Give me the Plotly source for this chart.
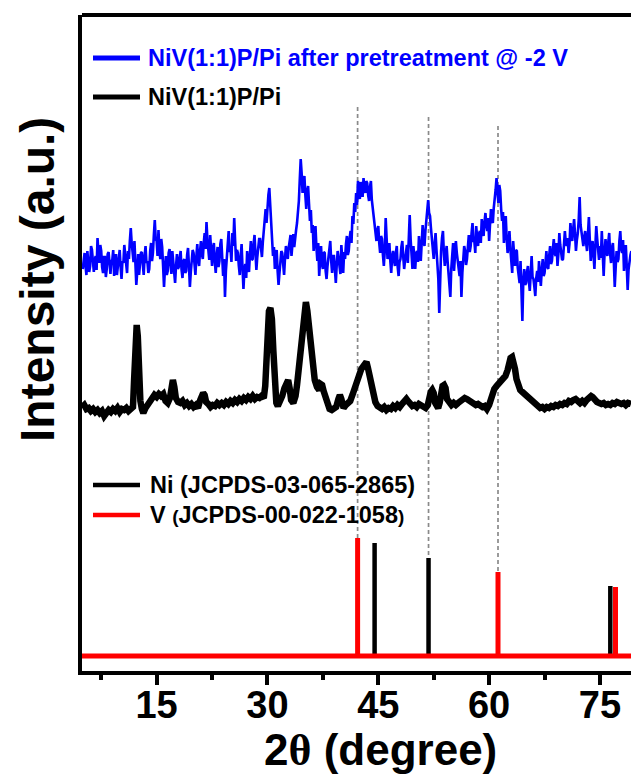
import numpy as np
import plotly.graph_objects as go

# ---------------- data ----------------
# NiV(1:1)P/Pi after pretreatment @ -2 V  (scan from 5.0 deg, step 0.125 deg)
scan_start = 5.0
scan_step = 0.125
blue_int = [
    402, 410, 418, 405, 396, 420, 412, 399,   # 5
    405, 425, 421, 408, 399, 411, 415, 401,   # 6
    433, 419, 408, 426, 420, 404, 398, 414,   # 7
    414, 394, 402, 417, 419, 408, 397, 410,   # 8
    411, 421, 395, 405, 417, 396, 403, 412,   # 9
    421, 404, 392, 410, 408, 426, 415, 400,   # 10
    398, 420, 412, 430, 443, 428, 420, 409,   # 11
    430, 405, 386, 399, 417, 396, 405, 418,   # 12
    419, 403, 396, 415, 425, 408, 410, 398,   # 13
    402, 420, 428, 410, 418, 436, 451, 432,   # 14
    430, 415, 441, 420, 412, 432, 424, 405,   # 15
    384, 402, 415, 396, 400, 418, 422, 407,   # 16
    397, 420, 411, 399, 388, 405, 417, 402,   # 17
    404, 413, 420, 401, 393, 410, 412, 398,   # 18
    400, 416, 423, 405, 384, 399, 410, 421,   # 19
    418, 402, 396, 414, 427, 411, 405, 420,   # 20
    430, 417, 412, 428, 438, 422, 449, 431,   # 21
    420, 411, 436, 418, 405, 423, 428, 409,   # 22
    398, 415, 424, 404, 410, 427, 432, 414,   # 23
    395, 412, 374, 400, 415, 428, 440, 419,   # 24
    422, 409, 438, 425, 453, 430, 410, 421,   # 25
    418, 405, 396, 414, 427, 403, 382, 400,   # 26
    407, 393, 420, 408, 399, 416, 430, 411,   # 27
    412, 427, 436, 418, 401, 414, 425, 432,   # 28
    432, 421, 414, 429, 440, 452, 462, 448,   # 29
    470, 476, 483, 465, 440, 428, 415, 424,   # 30
    402, 414, 421, 400, 386, 398, 410, 420,   # 31
    418, 405, 396, 413, 425, 417, 412, 423,   # 32
    428, 436, 415, 427, 437, 424, 430, 441,   # 33
    448, 459, 470, 492, 512, 498, 478, 489,   # 34
    495, 476, 462, 480, 485, 467, 450, 461,   # 35
    438, 446, 420, 432, 445, 424, 410, 428,   # 36
    395, 411, 425, 407, 402, 419, 418, 400,   # 37
    392, 405, 412, 421, 430, 410, 398, 415,   # 38
    415, 402, 388, 406, 420, 413, 405, 397,   # 39
    426, 410, 398, 419, 412, 427, 435, 416,   # 40
    420, 433, 440, 428, 455, 447, 468, 459,   # 41
    478, 466, 490, 481, 472, 489, 485, 474,   # 42
    493, 482, 478, 490, 488, 476, 470, 484,   # 43
    490, 471, 462, 452, 448, 437, 430, 441,   # 44
    445, 428, 418, 435, 432, 416, 405, 420,   # 45
    453, 433, 412, 421, 428, 410, 398, 415,   # 46
    420, 411, 405, 418, 425, 404, 395, 409,   # 47
    412, 424, 430, 414, 402, 411, 418, 426,   # 48
    408, 430, 456, 432, 415, 402, 425, 413,   # 49
    402, 418, 420, 409, 435, 421, 410, 428,   # 50
    446, 431, 425, 440, 450, 462, 471, 458,   # 51
    455, 443, 430, 419, 412, 427, 438, 421,   # 52
    410, 392, 358, 401, 420, 433, 440, 418,   # 53
    405, 417, 425, 410, 398, 389, 374, 402,   # 54
    415, 428, 400, 412, 430, 418, 410, 397,   # 55
    395, 410, 374, 398, 408, 425, 420, 406,   # 56
    412, 427, 436, 419, 425, 438, 448, 430,   # 57
    430, 418, 445, 434, 425, 437, 440, 428,   # 58
    452, 441, 435, 449, 458, 446, 440, 453,   # 59
    430, 447, 462, 451, 448, 463, 470, 481,   # 60
    493, 478, 468, 486, 480, 462, 450, 459,   # 61
    428, 441, 455, 433, 418, 427, 440, 422,   # 62
    412, 398, 430, 415, 405, 421, 420, 403,   # 63
    395, 388, 410, 382, 350, 391, 402, 386,   # 64
    388, 399, 405, 390, 380, 397, 415, 394,   # 65
    392, 384, 375, 393, 400, 389, 410, 396,   # 66
    385, 401, 412, 395, 398, 408, 420, 404,   # 67
    402, 415, 425, 407, 410, 422, 432, 418,   # 68
    415, 428, 405, 417, 438, 426, 420, 411,   # 69
    412, 424, 440, 429, 425, 433, 418, 427,   # 70
    448, 436, 430, 442, 452, 437, 420, 431,   # 71
    438, 451, 474, 446, 440, 429, 425, 434,   # 72
    440, 428, 420, 437, 454, 431, 410, 423,   # 73
    430, 416, 402, 425, 445, 432, 418, 411,   # 74
    425, 413, 440, 421, 395, 418, 432, 420,   # 75
    415, 429, 438, 417, 408, 423, 428, 410,   # 76
    384, 403, 420, 409, 412, 430, 440, 422,   # 77
    418, 431, 400, 413, 426, 405, 381, 402,   # 78
    412, 416, 420,                            # 79
]
blue_2theta = scan_start + scan_step * np.arange(len(blue_int))

# NiV(1:1)P/Pi  (2theta, intensity)
black_points = [
    (4.9, 264), (5.2, 266), (5.5, 262), (5.8, 263), (6.1, 260), (6.4, 262),
    (6.7, 259), (7.0, 261), (7.3, 258), (7.6, 260), (7.9, 255), (8.2, 257),
    (8.5, 261), (8.8, 259), (9.1, 262), (9.4, 260), (9.7, 263), (10.0, 259),
    (10.3, 262), (10.6, 261), (10.9, 263), (11.2, 260), (11.5, 262), (11.8, 264),
    (11.95, 291), (12.15, 335), (12.3, 346), (12.45, 335), (12.6, 301), (12.8, 270),
    (13.0, 262), (13.2, 258), (13.5, 263), (13.8, 266), (14.1, 270), (14.4, 272),
    (14.7, 276), (15.0, 274), (15.3, 277), (15.6, 275), (15.9, 277), (16.2, 270),
    (16.5, 268), (16.8, 273), (17.0, 284), (17.2, 291), (17.4, 284), (17.6, 273),
    (17.9, 269), (18.2, 268), (18.5, 270), (18.8, 266), (19.1, 268), (19.4, 265),
    (19.7, 267), (20.0, 264), (20.3, 266), (20.6, 263), (20.9, 271), (21.1, 277),
    (21.3, 278), (21.5, 276), (21.7, 269), (22.0, 267), (22.3, 264), (22.6, 266),
    (22.9, 265), (23.2, 268), (23.5, 266), (23.8, 268), (24.1, 266), (24.4, 269),
    (24.7, 267), (25.0, 270), (25.3, 268), (25.6, 271), (25.9, 269), (26.2, 272),
    (26.5, 270), (26.8, 273), (27.1, 271), (27.4, 274), (27.7, 272), (28.0, 275),
    (28.3, 272), (28.6, 274), (28.9, 273), (29.2, 275), (29.5, 273), (29.7, 285),
    (29.85, 315), (30.0, 345), (30.2, 360), (30.4, 363), (30.6, 352), (30.8, 320),
    (31.0, 286), (31.2, 268), (31.4, 265), (31.7, 269), (32.0, 275), (32.3, 283),
    (32.6, 290), (32.8, 291), (33.0, 283), (33.2, 271), (33.5, 268), (33.8, 275),
    (34.0, 286), (34.2, 302), (34.4, 321), (34.6, 338), (34.8, 353), (35.0, 364),
    (35.2, 369), (35.4, 360), (35.6, 345), (35.8, 325), (36.0, 310), (36.2, 300),
    (36.4, 291), (36.7, 284), (37.0, 281), (37.2, 287), (37.4, 286), (37.6, 280),
    (37.8, 274), (38.1, 266), (38.4, 262), (38.7, 261), (39.0, 262), (39.3, 264),
    (39.6, 272), (39.8, 276), (40.0, 272), (40.3, 263), (40.6, 266), (40.9, 268),
    (41.2, 270), (41.5, 276), (41.8, 284), (42.1, 290), (42.4, 296), (42.7, 302),
    (43.0, 305), (43.2, 308), (43.4, 309), (43.6, 303), (43.8, 295), (44.0, 285),
    (44.3, 275), (44.6, 269), (44.9, 265), (45.2, 264), (45.5, 262), (45.8, 264),
    (46.1, 261), (46.4, 263), (46.7, 262), (47.0, 265), (47.3, 263), (47.6, 266),
    (47.9, 264), (48.2, 267), (48.5, 269), (48.8, 272), (49.0, 270), (49.3, 267),
    (49.6, 265), (49.9, 266), (50.2, 264), (50.5, 267), (50.8, 265), (51.1, 264),
    (51.4, 263), (51.7, 266), (51.9, 274), (52.1, 279), (52.3, 281), (52.5, 278),
    (52.7, 268), (52.9, 264), (53.1, 263), (53.3, 268), (53.5, 278), (53.7, 285),
    (53.9, 286), (54.1, 283), (54.3, 272), (54.6, 267), (54.9, 266), (55.2, 268),
    (55.5, 266), (55.8, 268), (56.1, 270), (56.4, 271), (56.7, 273), (57.0, 272),
    (57.3, 270), (57.6, 268), (57.9, 267), (58.2, 266), (58.5, 267), (58.8, 265),
    (59.1, 264), (59.4, 265), (59.7, 262), (60.0, 266), (60.2, 272), (60.4, 278),
    (60.7, 282), (61.0, 285), (61.3, 288), (61.6, 290), (61.9, 292), (62.2, 295),
    (62.5, 301), (62.7, 308), (62.9, 313), (63.1, 314), (63.3, 310), (63.5, 302),
    (63.7, 292), (63.9, 285), (64.2, 281), (64.5, 279), (64.8, 277), (65.1, 275),
    (65.4, 273), (65.7, 271), (66.0, 268), (66.3, 266), (66.6, 265), (66.9, 263),
    (67.2, 264), (67.5, 262), (67.8, 264), (68.1, 263), (68.4, 265), (68.7, 264),
    (69.0, 266), (69.3, 265), (69.6, 267), (69.9, 266), (70.2, 268), (70.5, 267),
    (70.8, 270), (71.1, 269), (71.4, 271), (71.7, 272), (72.0, 270), (72.3, 268),
    (72.6, 270), (72.9, 268), (73.2, 271), (73.5, 273), (73.8, 275), (74.0, 274),
    (74.3, 270), (74.6, 269), (74.9, 268), (75.2, 267), (75.5, 268), (75.8, 266),
    (76.1, 267), (76.4, 266), (76.7, 268), (77.0, 267), (77.3, 269), (77.6, 268),
    (77.9, 267), (78.2, 268), (78.5, 266), (78.8, 268), (79.2, 267),
]
black_2theta = [p[0] for p in black_points]
black_int = [p[1] for p in black_points]

# Reference patterns (stick positions and heights above the baseline)
ref_baseline = 15
ni_2theta = [44.5, 51.8, 76.4]
ni_int = [113, 98, 70]
v_2theta = [42.2, 61.2, 77.1]
v_int = [118, 84, 69]

# Guide lines linking sample peaks to reference sticks
guide_2theta = [42.2, 51.8, 61.2]
guide_top = [564, 554, 545]
guide_bottom = [133, 113, 99]

x_range = [4.9, 79.2]
y_range = [0, 656]

# ---------------- figure ----------------
W, H = 631, 779
L, R, T, B = 82, 0, 15, 108
FONT = "Arial, Liberation Sans, sans-serif"


def px(xp):
    return (xp - L) / (W - L - R)


def py(yp):
    return (H - B - yp) / (H - T - B)


def sticks(pos, hts, base):
    xs, ys = [], []
    for p, h in zip(pos, hts):
        xs += [p, p, None]
        ys += [base, base + h, None]
    return xs, ys


fig = go.Figure()

# dashed guides
gx, gy = [], []
for p, top, bot in zip(guide_2theta, guide_top, guide_bottom):
    gx += [p, p, None]
    gy += [top, bot, None]
fig.add_trace(go.Scatter(x=gx, y=gy, mode="lines",
                         line=dict(color="#8a8a8a", width=1.7, dash="4px,3px"),
                         hoverinfo="skip"))

# Ni reference
nx, ny = sticks(ni_2theta, ni_int, ref_baseline)
fig.add_trace(go.Scatter(x=nx, y=ny, mode="lines",
                         line=dict(color="black", width=4.5), hoverinfo="skip"))

# V reference with its baseline
vx, vy = sticks(v_2theta, v_int, ref_baseline)
vx = [x_range[0], x_range[1], None] + vx
vy = [ref_baseline, ref_baseline, None] + vy
fig.add_trace(go.Scatter(x=vx, y=vy, mode="lines",
                         line=dict(color="#ff0000", width=5), hoverinfo="skip"))

# measured patterns
fig.add_trace(go.Scatter(x=black_2theta, y=black_int, mode="lines",
                         line=dict(color="black", width=6.5)))
fig.add_trace(go.Scatter(x=blue_2theta, y=blue_int, mode="lines",
                         line=dict(color="#0000ff", width=2.6)))

# legend-like labels
legend_rows = [
    (58, "#0000ff", "NiV(1:1)P/Pi after pretreatment @ -2 V", "#0000ff", 146, 5),
    (97, "black", "NiV(1:1)P/Pi", "black", 146, 5),
    (485, "black", "Ni (JCPDS-03-065-2865)", "black", 148, 4.5),
    (515, "#ff0000", "V <span style='font-size:19px'>(</span>JCPDS-00-022-1058"
                     "<span style='font-size:19px'>)</span>", "black", 148, 4.5),
]
shapes = []
annotations = []
for yp, lc, txt, tc, xt, lw in legend_rows:
    shapes.append(dict(type="line", xref="paper", yref="paper",
                       x0=px(93), x1=px(140), y0=py(yp), y1=py(yp),
                       line=dict(color=lc, width=lw)))
    annotations.append(dict(xref="paper", yref="paper", x=px(xt), y=py(yp),
                            xanchor="left", yanchor="middle", showarrow=False,
                            text=txt,
                            font=dict(family=FONT, size=23.5, color=tc, weight="bold")))

# top frame line
shapes.append(dict(type="line", xref="paper", yref="paper", x0=0, x1=1, y0=1, y1=1,
                   line=dict(color="black", width=4)))

# axis titles
annotations.append(dict(xref="paper", yref="paper", x=px(37), y=py(280),
                        xanchor="center", yanchor="middle", showarrow=False,
                        textangle=-90, text="Intensity (a.u.)",
                        font=dict(family=FONT, size=48, color="black", weight="bold")))
annotations.append(dict(xref="paper", yref="paper", x=px(380), y=py(750),
                        xanchor="center", yanchor="middle", showarrow=False,
                        text="2<span style='font-family:Times New Roman, Liberation Serif, serif'>θ</span> (degree)",
                        font=dict(family=FONT, size=44, color="black", weight="bold")))

fig.update_layout(
    width=W, height=H,
    margin=dict(l=L, r=R, t=T, b=B, pad=0),
    paper_bgcolor="white", plot_bgcolor="white",
    showlegend=False,
    shapes=shapes,
    annotations=annotations,
    xaxis=dict(range=x_range, showgrid=False, zeroline=False,
               showline=True, linecolor="black", linewidth=4,
               ticks="outside", ticklen=10, tickwidth=3.5, tickcolor="black",
               tick0=0, dtick=15, ticklabelstandoff=-13,
               tickfont=dict(family=FONT, size=38, color="black", weight="bold"),
               minor=dict(ticks="outside", ticklen=5, tickwidth=3.5,
                          tickcolor="black", dtick=7.5, tick0=0, showgrid=False)),
    yaxis=dict(range=y_range, showgrid=False, zeroline=False,
               showline=True, linecolor="black", linewidth=4,
               ticks="", showticklabels=False),
)

fig.write_html("out.html")
